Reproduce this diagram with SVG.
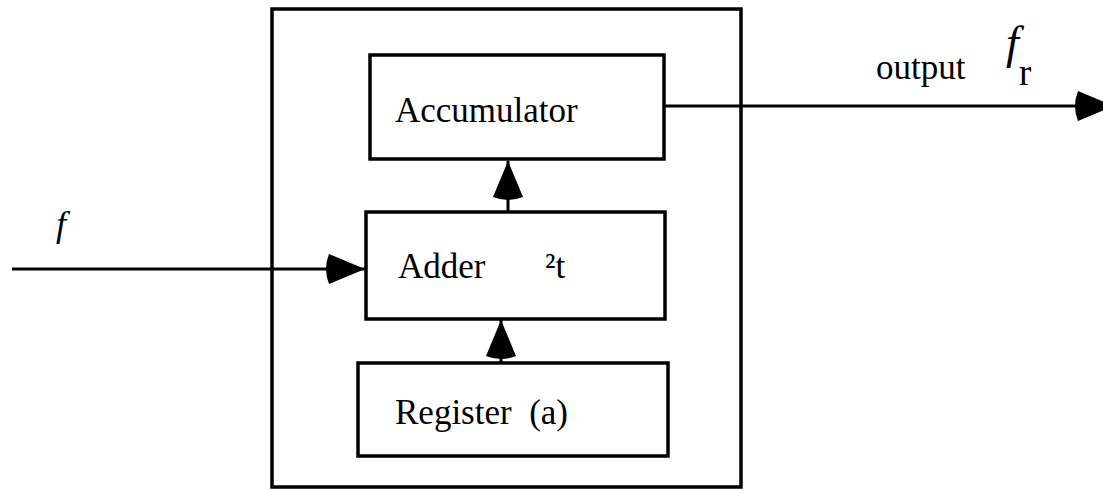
<svg xmlns="http://www.w3.org/2000/svg" width="1103" height="490" viewBox="0 0 1103 490">
<style>
.box{fill:#fff;stroke:#000;stroke-width:3.5}
.ln{fill:none;stroke:#000;stroke-width:3}
.t{font-family:"Liberation Serif","Times New Roman",serif;font-size:35px;fill:#000}
.i{font-style:italic}
</style>
<defs>
<marker id="ah" markerUnits="userSpaceOnUse" viewBox="-44 -17 46 34" refX="0" refY="0" markerWidth="46" markerHeight="34" orient="auto">
<path d="M0,0 L-36,-15 Q-42,0 -36,15 Z" fill="#000"/>
</marker>
</defs>
<rect x="0" y="0" width="1103" height="490" fill="#fff"/>
<g id="system">
<rect class="box" x="272" y="9" width="469" height="478"/>
</g>
<g id="accumulator">
<rect class="box" x="370" y="55" width="294" height="104"/>
<text class="t" x="395" y="122">Accumulator</text>
</g>
<g id="adder">
<rect class="box" x="366" y="212" width="299" height="107"/>
<text class="t" x="398" y="278">Adder</text>
<text class="t" x="545" y="278">²t</text>
</g>
<g id="register">
<rect class="box" x="358" y="363" width="310" height="93"/>
<text class="t" x="395" y="424" xml:space="preserve">Register  (a)</text>
</g>
<g id="connectors">
<line class="ln" x1="12" y1="269" x2="365" y2="269" marker-end="url(#ah)"/>
<line class="ln" x1="508" y1="212" x2="508" y2="161" marker-end="url(#ah)"/>
<line class="ln" x1="501" y1="363" x2="501" y2="320" marker-end="url(#ah)"/>
<line class="ln" x1="664" y1="106" x2="1114" y2="106" marker-end="url(#ah)"/>
</g>
<g id="labels">
<text class="t i" x="56" y="236" style="font-size:36px">f</text>
<text class="t" x="876" y="79">output</text>
<text class="t i" x="1006" y="58" style="font-size:46px">f</text>
<text class="t" x="1019" y="85" style="font-size:37px">r</text>
</g>
</svg>
